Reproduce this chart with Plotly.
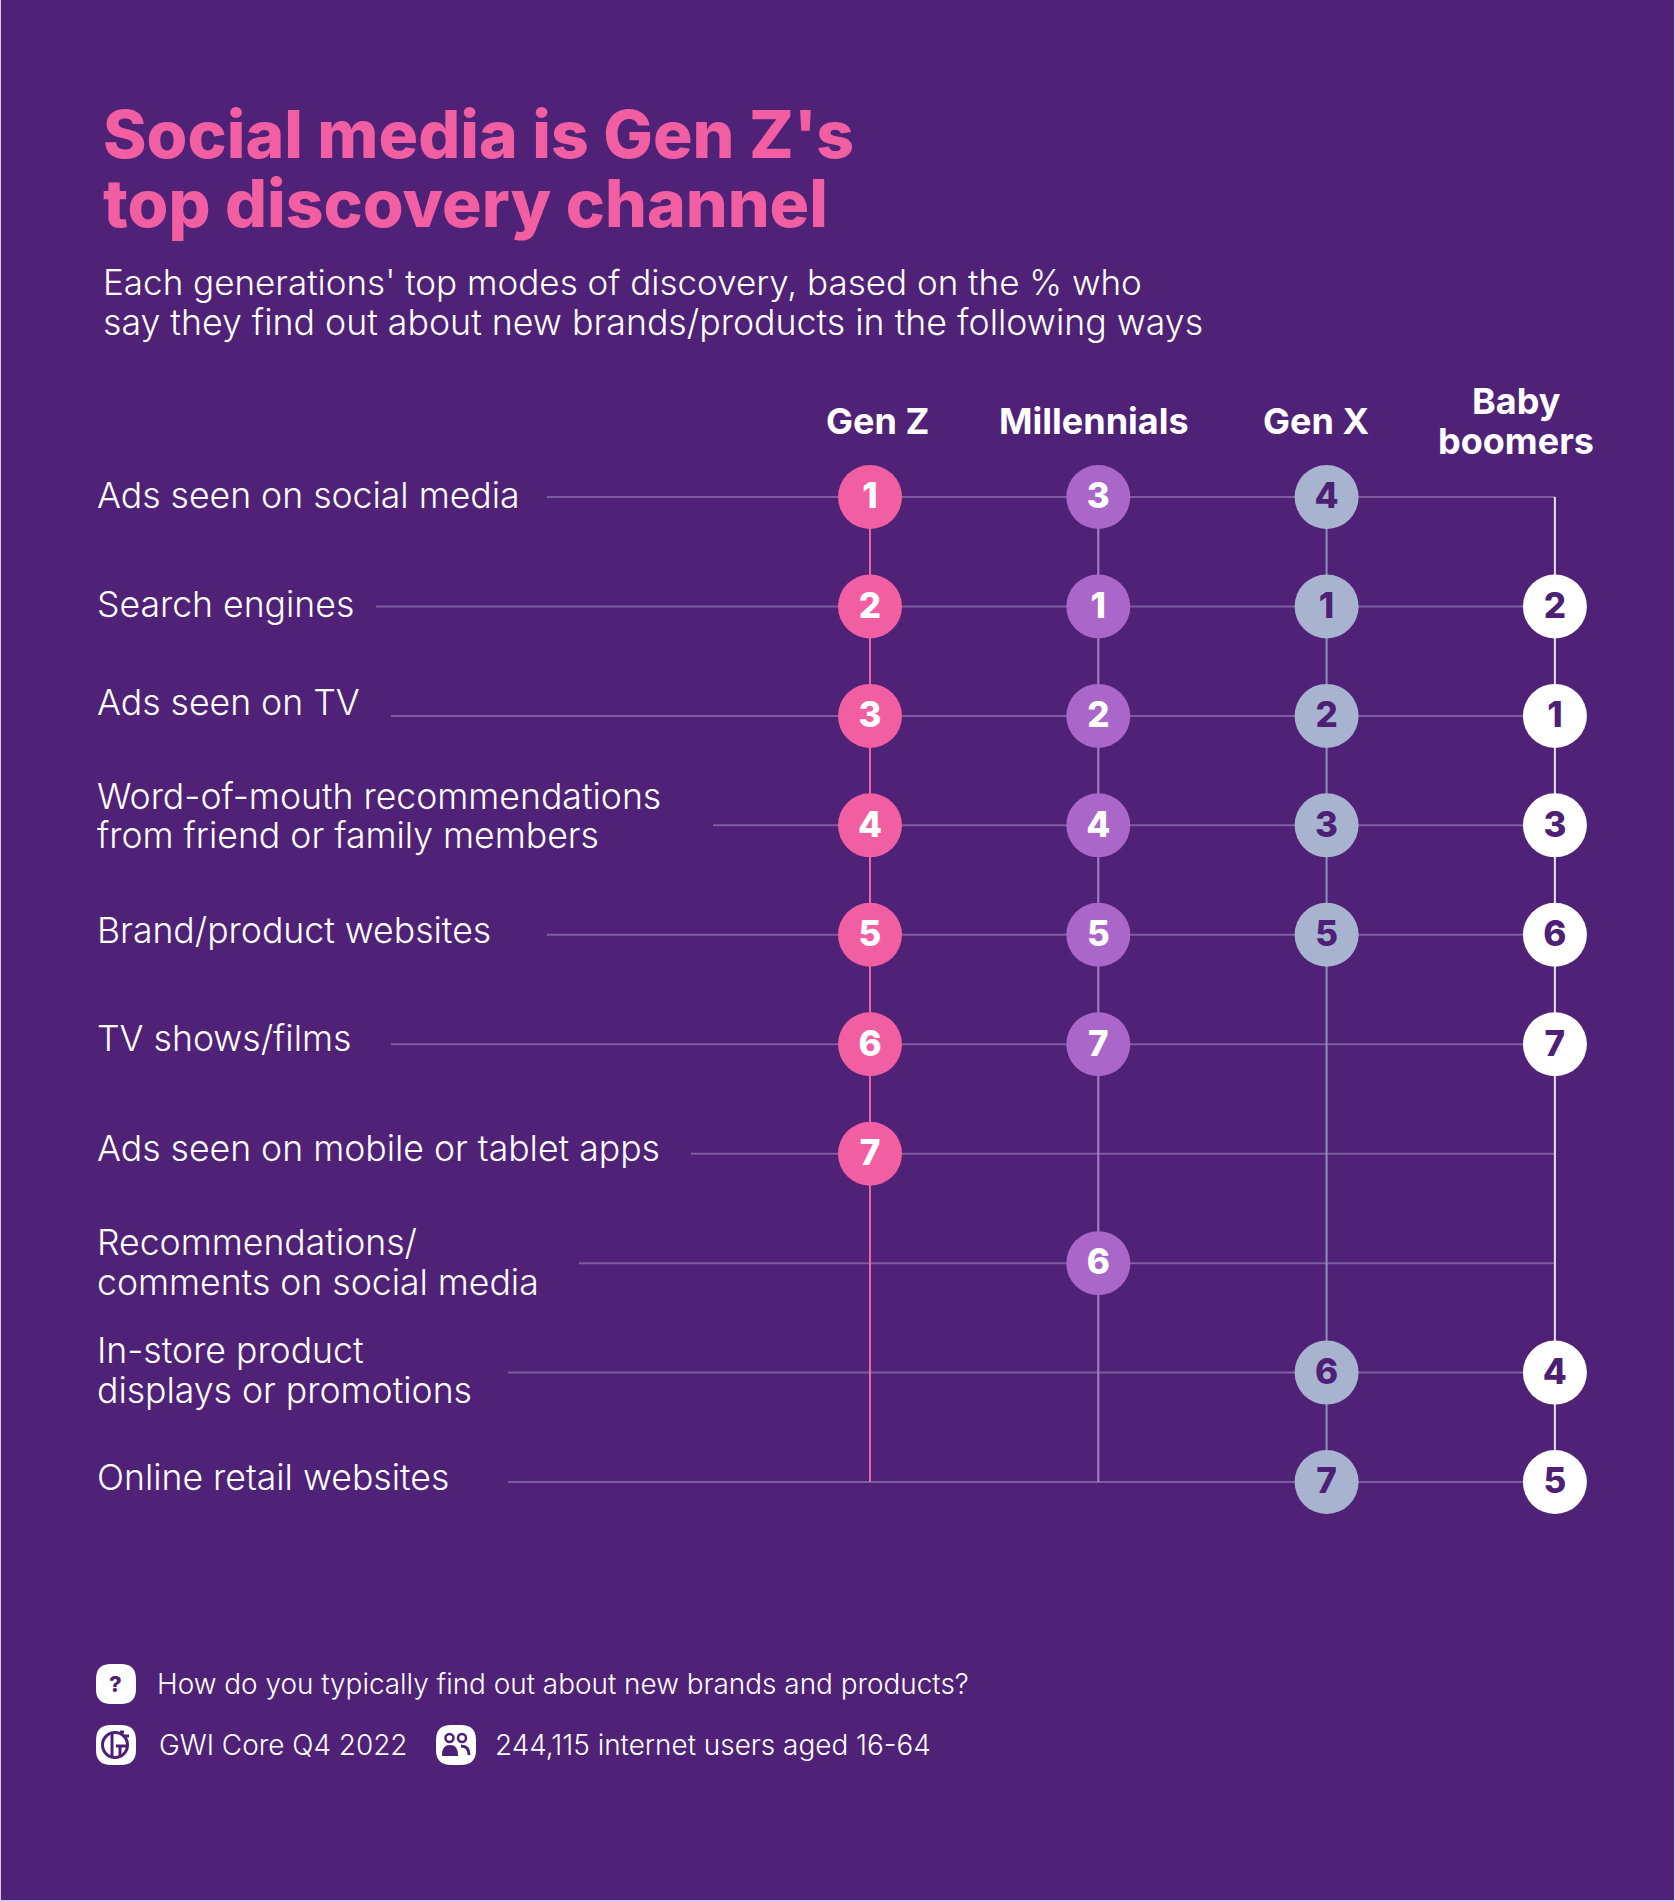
import plotly.graph_objects as go

W, H = 1675, 1902
BG = "#502277"
DARK = "#4d1f75"
FONT = "Inter"

generations = ["Gen Z", "Millennials", "Gen X", "Baby boomers"]
channels = ["Ads seen on social media", "Search engines", "Ads seen on TV",
            "Word-of-mouth recommendations from friend or family members",
            "Brand/product websites", "TV shows/films", "Ads seen on mobile or tablet apps",
            "Recommendations/comments on social media",
            "In-store product displays or promotions", "Online retail websites"]
gen_z = [1, 2, 3, 4, 5, 6, 7, None, None, None]
millennials = [3, 1, 2, 4, 5, 7, None, 6, None, None]
gen_x = [4, 1, 2, 3, 5, None, None, None, 6, 7]
baby_boomers = [None, 2, 1, 3, 6, 7, None, None, 4, 5]
ranks = [gen_z, millennials, gen_x, baby_boomers]

# styling
marker_colors = ["#f15fa2", "#ab66c9", "#a8b4cf", "#ffffff"]
number_colors = ["#ffffff", "#ffffff", DARK, DARK]
spine_colors = ["#ee62a6", "#a97fca", "#8c8fb4", "#e6dff0"]

# pixel layout of the grid
X0, DX, Y0, DY = 870, 228.3, 497, 109.45
line_start_px = [547, 376, 391, 713, 547, 391, 691, 579, 508, 508]
x_range = [-X0 / DX, (W - X0) / DX]
y_range = [(H - Y0) / DY, -Y0 / DY]
number_nudge = 2.5 / DY

fig = go.Figure()

# horizontal connectors
for i, ch in enumerate(channels):
    fig.add_trace(go.Scatter(x=[(line_start_px[i] - X0) / DX, 3], y=[i, i], mode="lines",
                             line=dict(color="#7d5c9f", width=2), hoverinfo="skip"))
# vertical spines
for g, gen in enumerate(generations):
    fig.add_trace(go.Scatter(x=[g, g], y=[0, len(channels) - 1], mode="lines",
                             line=dict(color=spine_colors[g], width=2), hoverinfo="skip"))
# rank bubbles
for g, gen in enumerate(generations):
    ys = [i for i, r in enumerate(ranks[g]) if r is not None]
    vals = [ranks[g][i] for i in ys]
    fig.add_trace(go.Scatter(x=[g] * len(ys), y=ys, mode="markers", name=gen,
                             marker=dict(size=64, color=marker_colors[g], line=dict(width=0)),
                             hoverinfo="skip"))
    fig.add_trace(go.Scatter(x=[g] * len(ys), y=[y + number_nudge for y in ys], mode="text",
                             text=[str(v) for v in vals], textposition="middle center",
                             textfont=dict(family=FONT, size=35, color=number_colors[g], weight=800),
                             hoverinfo="skip"))

ann = []
def label(text, px, py, size, color="#ffffff", weight=400, anchor="left"):
    ann.append(dict(text=text, x=px / W, y=1 - py / H, xref="paper", yref="paper",
                    xanchor=anchor, yanchor="middle", showarrow=False,
                    font=dict(family=FONT, size=size, color=color, weight=weight)))

# title block
label("Social media is Gen Z's", 101, 134, 66, "#f15fa2", 800)
label("top discovery channel", 101, 203, 66, "#f15fa2", 800)
label("Each generations' top modes of discovery, based on the % who", 101, 282, 35, weight=300)
label("say they find out about new brands/products in the following ways", 101, 322, 35.7, weight=300)

# column headers
label("Gen Z", 877, 421, 36, weight=700, anchor="center")
label("Millennials", 1094, 421, 36, weight=700, anchor="center")
label("Gen X", 1316, 421, 36, weight=700, anchor="center")
label("Baby", 1516, 401, 36, weight=700, anchor="center")
label("boomers", 1516, 441, 36, weight=700, anchor="center")

# row labels
row_text = [("Ads seen on social media", 496), ("Search engines", 604), ("Ads seen on TV", 703),
            ("Word-of-mouth recommendations", 796), ("from friend or family members", 836),
            ("Brand/product websites", 930), ("TV shows/films", 1038),
            ("Ads seen on mobile or tablet apps", 1148), ("Recommendations/", 1242),
            ("comments on social media", 1282), ("In-store product", 1350),
            ("displays or promotions", 1390), ("Online retail websites", 1477)]
for t, py in row_text:
    label(t, 95, py, 35.6, weight=300)

# footer
label("How do you typically find out about new brands and products?", 155, 1684, 27.9, weight=300)
label("GWI Core Q4 2022", 157, 1745, 27.9, weight=300)
label("244,115 internet users aged 16-64", 493, 1745, 27.9, weight=300)
label("?", 115, 1684, 22, DARK, 800, "center")

def px_x(v): return v / W
def px_y(v): return 1 - v / H

shapes = [dict(type="rect", xref="paper", yref="paper", x0=px_x(1), x1=px_x(W - 1), y0=px_y(H - 2), y1=1,
               fillcolor=BG, line=dict(width=0), layer="below")]

def squircle(x0, y0, s=40, r=15):
    x1, y1 = x0 + s, y0 + s
    pts = [(x0 + r, y0), (x1 - r, y0), (x1, y0), (x1, y0 + r), (x1, y1 - r), (x1, y1), (x1 - r, y1),
           (x0 + r, y1), (x0, y1), (x0, y1 - r), (x0, y0 + r), (x0, y0), (x0 + r, y0)]
    f = lambda p: f"{px_x(p[0]):.5f},{px_y(p[1]):.5f}"
    return (f"M{f(pts[0])} L{f(pts[1])} Q{f(pts[2])} {f(pts[3])} L{f(pts[4])} Q{f(pts[5])} {f(pts[6])} "
            f"L{f(pts[7])} Q{f(pts[8])} {f(pts[9])} L{f(pts[10])} Q{f(pts[11])} {f(pts[12])} Z")

for (x0, y0) in [(96, 1664), (96, 1725), (436, 1725)]:
    shapes.append(dict(type="path", xref="paper", yref="paper", path=squircle(x0, y0),
                       fillcolor="#ffffff", line=dict(width=0)))

def circ(cx, cy, r, fill=None, stroke=None, w=0):
    shapes.append(dict(type="circle", xref="paper", yref="paper",
                       x0=px_x(cx - r), x1=px_x(cx + r), y0=px_y(cy + r), y1=px_y(cy - r),
                       fillcolor=fill if fill else "rgba(0,0,0,0)",
                       line=dict(color=stroke if stroke else "rgba(0,0,0,0)", width=w)))

def seg(x0, y0, x1, y1, w=3, color=DARK):
    shapes.append(dict(type="line", xref="paper", yref="paper", x0=px_x(x0), x1=px_x(x1),
                       y0=px_y(y0), y1=px_y(y1), line=dict(color=color, width=w)))

# GWI logo glyph
circ(115, 1745, 12.5, stroke=DARK, w=3)
seg(112, 1733, 112, 1757)
seg(116, 1746, 127, 1746)
seg(120, 1746, 120, 1757)
seg(124, 1736, 129, 1736, w=3)
seg(120, 1732, 124, 1732, w=3)

# people glyph
f = lambda x, y: f"{px_x(x):.5f},{px_y(y):.5f}"
circ(449.5, 1738, 4, stroke=DARK, w=2.5)
circ(462, 1738, 4, stroke=DARK, w=2.5)
shapes.append(dict(type="path", xref="paper", yref="paper",
                   path=f"M{f(443,1755)} Q{f(443,1746)} {f(450,1746)} Q{f(457,1746)} {f(457,1755)} Z",
                   fillcolor=DARK, line=dict(color=DARK, width=2)))
shapes.append(dict(type="path", xref="paper", yref="paper",
                   path=f"M{f(461,1746)} Q{f(469,1746)} {f(469,1755)}",
                   fillcolor="rgba(0,0,0,0)", line=dict(color=DARK, width=3)))

fig.update_layout(
    width=W, height=H, margin=dict(l=0, r=0, t=0, b=0, pad=0), autosize=False,
    paper_bgcolor="#d9c9e6", plot_bgcolor="rgba(0,0,0,0)", showlegend=False, hovermode=False,
    xaxis=dict(range=x_range, visible=False, fixedrange=True),
    yaxis=dict(range=y_range, visible=False, fixedrange=True),
    annotations=ann, shapes=shapes,
)
fig.write_html("out.html", config=dict(displayModeBar=False),
               post_script="document.body.style.margin='0';document.body.style.overflow='hidden';")
